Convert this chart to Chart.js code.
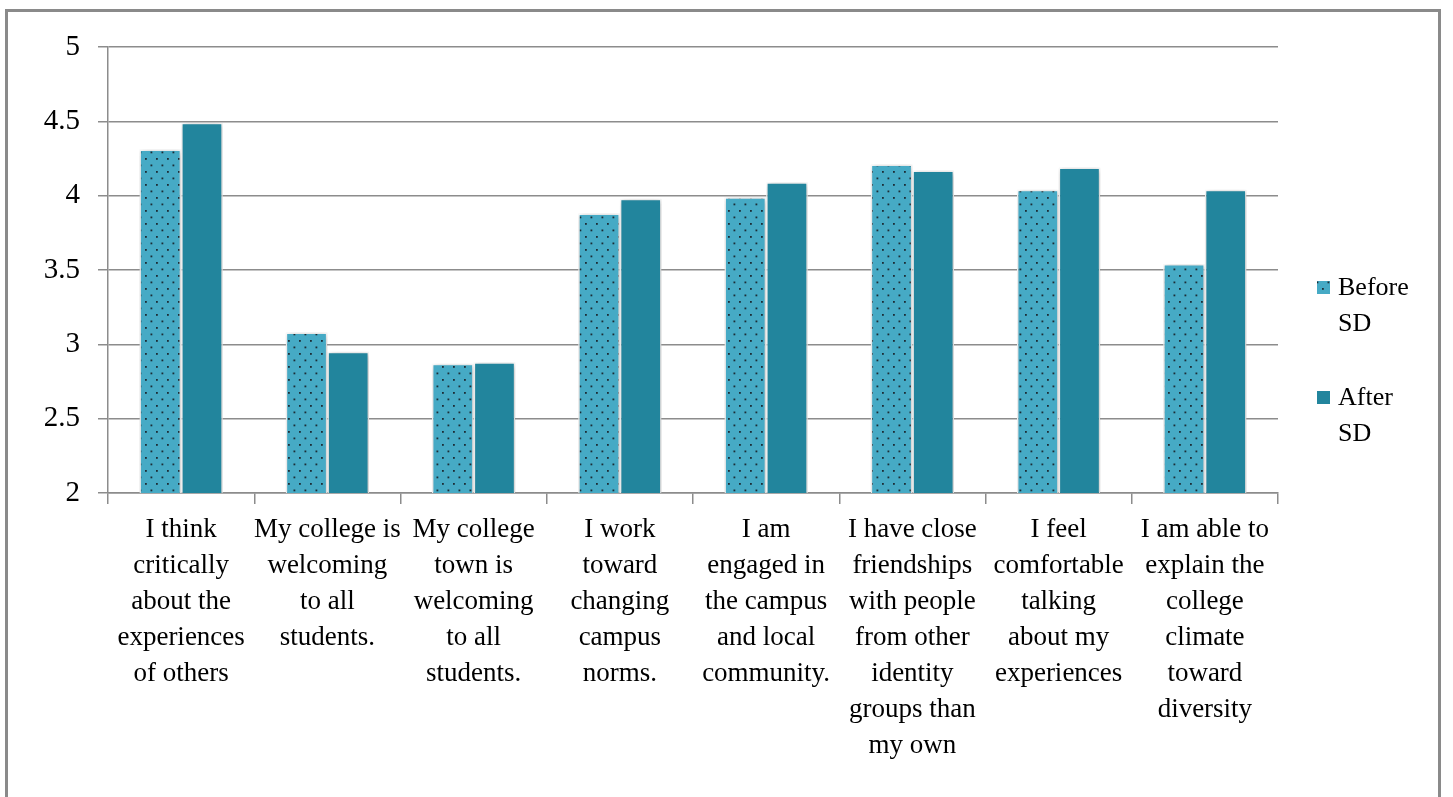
<!DOCTYPE html>
<html>
<head>
<meta charset="utf-8">
<script src="https://cdn.jsdelivr.net/npm/chart.js@4/dist/chart.umd.min.js"></script>
<style>
  html, body { margin: 0; padding: 0; background: #fff; }
  #wrap { position: relative; width: 1453px; height: 797px; overflow: hidden; }
  #frame { position: absolute; left: 5px; top: 9px; width: 1436px; height: 800px; border: 3px solid #8a8a8a; box-sizing: border-box; }
  #myChart { position: absolute; left: 0; top: 0; }
</style>
</head>
<body>
<div id="wrap">
  <div id="frame"></div>
  <canvas id="myChart" width="1453" height="797"></canvas>
</div>
<script>
// data
const categories = [
  ['I think', 'critically', 'about the', 'experiences', 'of others'],
  ['My college is', 'welcoming', 'to all', 'students.'],
  ['My college', 'town is', 'welcoming', 'to all', 'students.'],
  ['I work', 'toward', 'changing', 'campus', 'norms.'],
  ['I am', 'engaged in', 'the campus', 'and local', 'community.'],
  ['I have close', 'friendships', 'with people', 'from other', 'identity', 'groups than', 'my own'],
  ['I feel', 'comfortable', 'talking', 'about my', 'experiences'],
  ['I am able to', 'explain the', 'college', 'climate', 'toward', 'diversity']
];
const beforeSD = [4.31, 3.08, 2.87, 3.88, 3.99, 4.21, 4.04, 3.54];
const afterSD = [4.49, 2.95, 2.88, 3.98, 4.09, 4.17, 4.19, 4.04];
const seriesNames = [['Before', 'SD'], ['After', 'SD']];
const yTicks = ['2', '2.5', '3', '3.5', '4', '4.5', '5'];

const serif = '"Liberation Serif", "DejaVu Serif", serif';
const gridGray = '#8c8c8c';

// dotted fill for the "before" bars
function dotPattern(){
  let c = document.createElement('canvas');
  c.width = 11; c.height = 13;
  let g = c.getContext('2d');
  g.fillStyle = '#46aac5';
  g.fillRect(0, 0, 11, 13);
  g.fillStyle = '#1c2c35';
  g.fillRect(2, 2, 1.8, 1.8);
  g.fillRect(7.5, 8.5, 1.8, 1.8);
  return g.createPattern(c, 'repeat');
}
const ctx = document.getElementById('myChart').getContext('2d');
const dots = dotPattern();

const shadowPlugin = {
  id: 'barShadow',
  beforeDatasetsDraw(chart){
    let c = chart.ctx;
    c.save();
    c.shadowColor = 'rgba(0,0,0,0.28)';
    c.shadowBlur = 6;
    c.shadowOffsetX = 1;
    c.shadowOffsetY = 1;
  },
  afterDatasetsDraw(chart){
    chart.ctx.restore();
  }
};

const legendPlugin = {
  id: 'sideLegend',
  afterDraw(chart){
    let c = chart.ctx;
    let tops = [288, 398];
    c.save();
    chart.data.datasets.forEach((ds, i) => {
      c.fillStyle = ds.backgroundColor;
      c.fillRect(1317, tops[i] - 7, 13, 13);
      c.fillStyle = '#000';
      c.font = '26px ' + serif;
      c.textBaseline = 'middle';
      c.textAlign = 'left';
      seriesNames[i].forEach((line, j) => {
        c.fillText(line, 1338, tops[i] + j * 36);
      });
    });
    c.restore();
  }
};

const myChart = new Chart(ctx, {
  type: 'bar',
  data: {
    labels: categories,
    datasets: [{
      label: 'Before SD',
      data: beforeSD,
      backgroundColor: dots,
      borderColor: '#ffffff',
      borderWidth: 1.5
    }, {
      label: 'After SD',
      data: afterSD,
      backgroundColor: '#22859d',
      borderColor: '#ffffff',
      borderWidth: 1.5
    }]
  },
  options: {
    responsive: false,
    animation: false,
    devicePixelRatio: 1,
    layout: { padding: { left: 0, right: 175, top: 47, bottom: 0 } },
    datasets: { bar: { categoryPercentage: 0.57, barPercentage: 1 } },
    plugins: { legend: { display: false }, tooltip: { enabled: false } },
    scales: {
      x: {
        afterFit: s => { s.height = 304; },
        grid: { display: true, drawOnChartArea: false, drawTicks: true, tickLength: 11, color: gridGray, lineWidth: 1.5, offset: true },
        border: { display: true, color: gridGray, width: 1.5 },
        ticks: {
          color: '#000',
          maxRotation: 0,
          autoSkip: false,
          padding: 8,
          font: { family: serif, size: 27, lineHeight: 1.33 }
        }
      },
      y: {
        min: 2,
        max: 5,
        afterFit: s => { s.width = 108; },
        grid: { color: gridGray, lineWidth: 1.5, tickLength: 10 },
        border: { display: true, color: gridGray, width: 1.5 },
        ticks: {
          stepSize: 0.5,
          color: '#000',
          padding: 18,
          font: { family: serif, size: 29 },
          callback: (v, i) => yTicks[i]
        }
      }
    }
  },
  plugins: [shadowPlugin, legendPlugin]
});
</script>
</body>
</html>
